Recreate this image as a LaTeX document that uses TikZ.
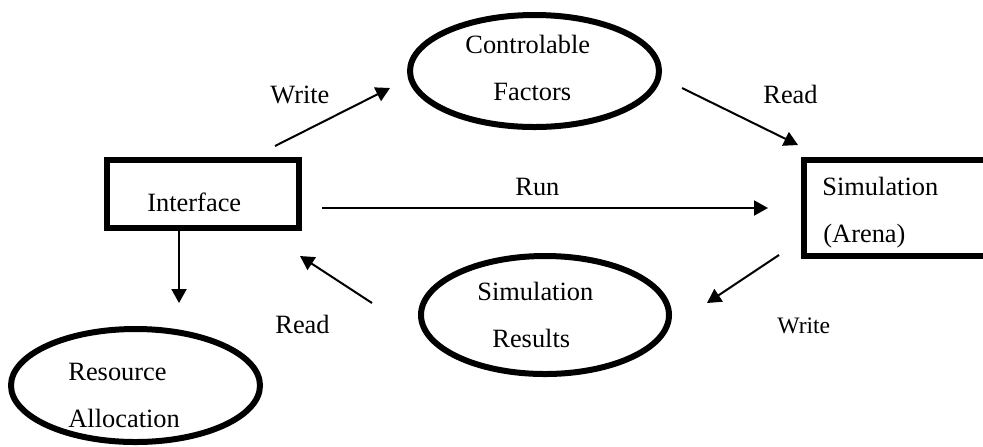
\documentclass[tikz,border=0pt]{standalone}
\usepackage{fontspec}
\setmainfont{Liberation Serif}
\usetikzlibrary{arrows.meta,shapes.geometric}
\begin{document}
\begin{tikzpicture}[x=0.5pt,y=-0.5pt,
  thick box/.style={draw,line width=3pt,rectangle,inner sep=0pt},
  thick ell/.style={draw,line width=3pt,ellipse,inner sep=0pt},
  txt/.style={anchor=base west,inner sep=0pt,font=\fontsize{13.2}{16}\selectfont},
  smalltxt/.style={anchor=base west,inner sep=0pt,font=\fontsize{11.8}{14}\selectfont},
  conn/.style={line width=1pt,-{Triangle[length=7pt,width=7.5pt]}}]
\useasboundingbox (0,0) rectangle (983,446);
\clip (0,0) rectangle (983,446);
% shapes
\node[thick box,minimum width=96pt,minimum height=34pt] (iface) at (203,194) {};
\node[thick box,minimum width=150pt,minimum height=48pt] (sim) at (953.5,208) {};
\node[thick ell,minimum width=124.5pt,minimum height=56pt] (cf) at (534.5,71) {};
\node[thick ell,minimum width=124pt,minimum height=59pt] (sr) at (545,315) {};
\node[thick ell,minimum width=124.5pt,minimum height=56.5pt] (ra) at (135.5,385.5) {};
% texts
\node[txt] (tiface) at (147,211) {Interface};
\node[txt] (tcf1) at (465,53) {Controlable};
\node[txt] (tcf2) at (493,100) {Factors};
\node[txt] (tsim1) at (822,195) {Simulation};
\node[txt] (tsim2) at (823,242) {(Arena)};
\node[txt] (tsr1) at (477,300) {Simulation};
\node[txt] (tsr2) at (492,347) {Results};
\node[txt] (tra1) at (68,380) {Resource};
\node[txt] (tra2) at (68,427) {Allocation};
\node[txt] (lw1) at (270,103) {Write};
\node[txt] (lr1) at (763,103) {Read};
\node[txt] (lrun) at (515,195) {Run};
\node[txt] (lr2) at (275,333) {Read};
\node[smalltxt] (lw2) at (777,333) {Write};
% connector end points
\coordinate (w1a) at (275,146); \coordinate (w1b) at (390,88);
\coordinate (r1a) at (682,88);  \coordinate (r1b) at (798,145);
\coordinate (runa) at (322,208); \coordinate (runb) at (768,208);
\coordinate (da) at (179,230);  \coordinate (db) at (179,303);
\coordinate (r2a) at (372,303); \coordinate (r2b) at (300,256);
\coordinate (w2a) at (779,255); \coordinate (w2b) at (707,303);
% connectors
\draw[conn] (w1a) -- (w1b);
\draw[conn] (r1a) -- (r1b);
\draw[conn] (runa) -- (runb);
\draw[conn] (da) -- (db);
\draw[conn] (r2a) -- (r2b);
\draw[conn] (w2a) -- (w2b);
\end{tikzpicture}
\end{document}
